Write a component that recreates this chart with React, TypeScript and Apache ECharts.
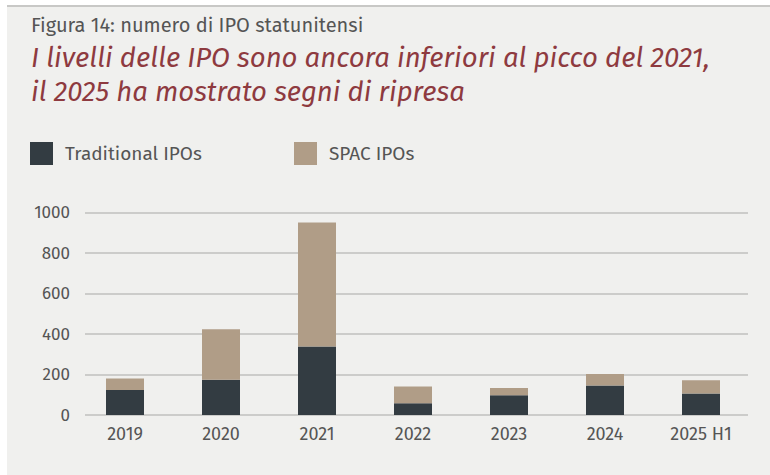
import React, { useEffect, useRef } from "react";
import * as echarts from "echarts";

const categories = ["2019", "2020", "2021", "2022", "2023", "2024", "2025 H1"];
const traditional = [124, 174, 338, 58, 98, 146, 106];
const spac = [57, 250, 614, 83, 35, 57, 66];
const yTicks = { min: 0, max: 1000, interval: 200 };
const seriesNames = ["Traditional IPOs", "SPAC IPOs"];

const FONT = "'Fira Sans', 'Open Sans', 'Noto Sans', sans-serif";

export default function App() {
  const ref = useRef<HTMLDivElement>(null);
  useEffect(() => {
    if (!ref.current) return;
    const chart = echarts.init(ref.current, null, { renderer: "svg" });
    const legendCommon = {
      top: 142,
      padding: 0,
      itemWidth: 23,
      itemHeight: 23,
      icon: "rect",
      textStyle: { color: "#555555", fontSize: 19, fontFamily: FONT, padding: [0, 0, 0, 7] },
    };
    chart.setOption({
      animation: false,
      backgroundColor: "#ffffff",
      graphic: [
        { type: "rect", shape: { x: 7, y: 6, width: 763, height: 469 }, style: { fill: "#f0f0ee" }, z: -10 },
        { type: "line", shape: { x1: 7, y1: 6, x2: 770, y2: 6 }, style: { stroke: "#c8c8c6", lineWidth: 2 }, z: -9 },
        { type: "text", x: 31, y: 25, style: { text: "Figura 14: numero di IPO statunitensi", fill: "#555555", font: `20px ${FONT}`, verticalAlign: "middle" } },
        { type: "text", x: 31, y: 57, style: { text: "I livelli delle IPO sono ancora inferiori al picco del 2021,", fill: "#8e3a3f", font: `italic 27.5px ${FONT}`, verticalAlign: "middle" } },
        { type: "text", x: 31, y: 91, style: { text: "il 2025 ha mostrato segni di ripresa", fill: "#8e3a3f", font: `italic 27.5px ${FONT}`, verticalAlign: "middle" } },
      ],
      legend: [
        { ...legendCommon, left: 30, data: [seriesNames[0]] },
        { ...legendCommon, left: 294, data: [seriesNames[1]] },
      ],
      grid: [
        { left: 85, right: 22, top: 212.7, bottom: 60 },
        { left: 77, right: 21, top: 212.7, bottom: 60 },
      ],
      xAxis: [
        { type: "value", gridIndex: 0, show: false, min: 0, max: 1 },
        {
          type: "category",
          gridIndex: 1,
          data: categories,
          axisLine: { show: false },
          axisTick: { show: false },
          axisLabel: { color: "#555555", fontSize: 18, fontFamily: FONT, margin: 10 },
        },
      ],
      yAxis: [
        {
          type: "value",
          gridIndex: 0,
          min: yTicks.min,
          max: yTicks.max,
          interval: yTicks.interval,
          axisLine: { show: false },
          axisTick: { show: false },
          axisLabel: { color: "#555555", fontSize: 17, fontFamily: FONT, margin: 15, formatter: (v: number) => String(v) },
          splitLine: { lineStyle: { color: "#c0c0be", width: 1.5 } },
        },
        {
          type: "value",
          gridIndex: 1,
          min: yTicks.min,
          max: yTicks.max,
          interval: yTicks.interval,
          show: false,
          splitLine: { show: false },
        },
      ],
      series: [
        {
          name: seriesNames[0],
          type: "bar",
          stack: "ipo",
          xAxisIndex: 1,
          yAxisIndex: 1,
          data: traditional,
          barWidth: 38,
          itemStyle: { color: "#333c42" },
        },
        {
          name: seriesNames[1],
          type: "bar",
          stack: "ipo",
          xAxisIndex: 1,
          yAxisIndex: 1,
          data: spac,
          barWidth: 38,
          itemStyle: { color: "#b09d87" },
        },
      ],
    });
    return () => chart.dispose();
  }, []);
  return (
    <div
      ref={ref}
      style={{ position: "absolute", left: 0, top: 0, width: 770, height: 475 }}
    />
  );
}
